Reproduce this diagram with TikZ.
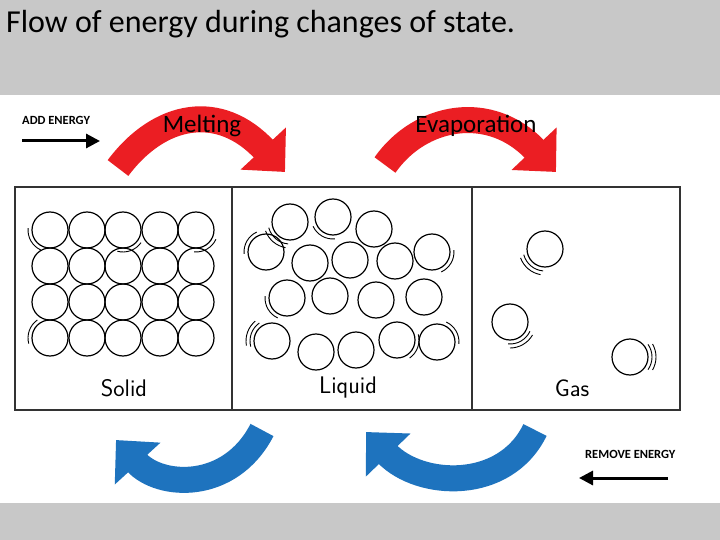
\documentclass[tikz,border=0pt]{standalone}
\usepackage{fontspec}
\setmainfont{Carlito}
\usetikzlibrary{arrows.meta}
\definecolor{granite}{RGB}{200,200,200}
\definecolor{rd}{RGB}{235,30,35}
\definecolor{bl}{RGB}{30,115,190}
\begin{document}
\begin{tikzpicture}[x=1pt,y=-1pt,
  mol/.style={draw=black,line width=1.2pt,circle,minimum size=36pt,inner sep=0pt},
  box/.style={draw=black!80,line width=1.2pt},
  bigarrow/.style={line width=26pt,-{Triangle[length=32pt,width=60pt]}},
  lbl/.style={font=\fontsize{25}{27}\selectfont},
  state/.style={font=\fontsize{24}{26}\selectfont\sffamily},
  energy/.style={font=\fontsize{12.5}{13}\selectfont\bfseries}]
\useasboundingbox (0,0) rectangle (720,540);
\fill[granite] (0,0) rectangle (720,95);
\fill[granite] (0,503) rectangle (720,540);
\fill[white] (0,95) rectangle (720,503);
\node[anchor=west,font=\fontsize{32}{34}\selectfont,inner sep=0pt] (title) at (6,24) {Flow of energy during changes of state.};
% boxes
\draw[box] (15,187) rectangle (232,410);
\draw[box] (232,187) rectangle (472,410);
\draw[box] (472,187) rectangle (680,410);
% solid
\foreach \i/\x in {1/50,2/87,3/123,4/160,5/196}
  \foreach \j/\y in {1/230,2/266,3/302,4/338}
    \node[mol] (s\i\j) at (\x,\y) {};
% liquid
\foreach \n/\x/\y in {a/290/222,b/333/217,c/374/229,d/266/252,e/310/263,f/350/260,g/395/261,h/432/252,
  i/287/298,j/330/296,k/376/300,l/424/297,m/272/341,n/316/352,o/356/350,p/397/340,q/437/342}
  \node[mol] (l\n) at (\x,\y) {};
% gas
\node[mol] (g1) at (545,249) {};
\node[mol] (g2) at (510,322) {};
\node[mol] (g3) at (630,357) {};
% vibration arcs
\foreach \c/\a in {s11/150,s31/70,s51/60,s14/200,lb/120,la/130,ld/210,lh/30,lm/200,lq/330,lp/20,li/150,g1/130,g2/60,g3/0}{
  \draw[line width=0.9pt] (\c) ++(\a-35:22) arc[start angle=\a-35,end angle=\a+35,radius=22];
}
\foreach \c/\a in {la/130,g1/130,g2/60,g3/0,lm/200}{
  \draw[line width=0.9pt] (\c) ++(\a-30:26) arc[start angle=\a-30,end angle=\a+30,radius=26];
}
% labels
\node[state] (ls) at (124,388) {Solid};
\node[state] (ll) at (348,388) {Liquid};
\node[state] (lg) at (572,388) {Gas};
% red arrows
\coordinate (r1a) at (118,168);
\coordinate (r1b) at (285,172);
\draw[bigarrow,rd] (r1a) .. controls (160,112) and (220,102) .. (r1b);
\coordinate (r2a) at (385,165);
\coordinate (r2b) at (556,172);
\draw[bigarrow,rd] (r2a) .. controls (420,115) and (490,102) .. (r2b);
\node[lbl] (melt) at (202,126) {Melting};
\node[lbl] (evap) at (476,126) {Evaporation};
% blue arrows
\coordinate (b1a) at (262,430);
\coordinate (b1b) at (116,440);
\draw[bigarrow,bl] (b1a) .. controls (230,492) and (160,488) .. (b1b);
\coordinate (b2a) at (535,430);
\coordinate (b2b) at (366,432);
\draw[bigarrow,bl] (b2a) .. controls (505,492) and (420,488) .. (b2b);
% energy arrows
\node[energy,anchor=west,inner sep=0pt] (add) at (22,120) {ADD ENERGY};
\coordinate (ad1) at (22,141);
\coordinate (ad2) at (100,141);
\draw[line width=3pt,-{Triangle[length=14pt,width=14pt]}] (ad1) -- (ad2);
\node[energy,anchor=west,inner sep=0pt] (rem) at (585,454) {REMOVE ENERGY};
\coordinate (re1) at (668,478);
\coordinate (re2) at (579,478);
\draw[line width=3pt,-{Triangle[length=14pt,width=14pt]}] (re1) -- (re2);
\end{tikzpicture}
\end{document}
